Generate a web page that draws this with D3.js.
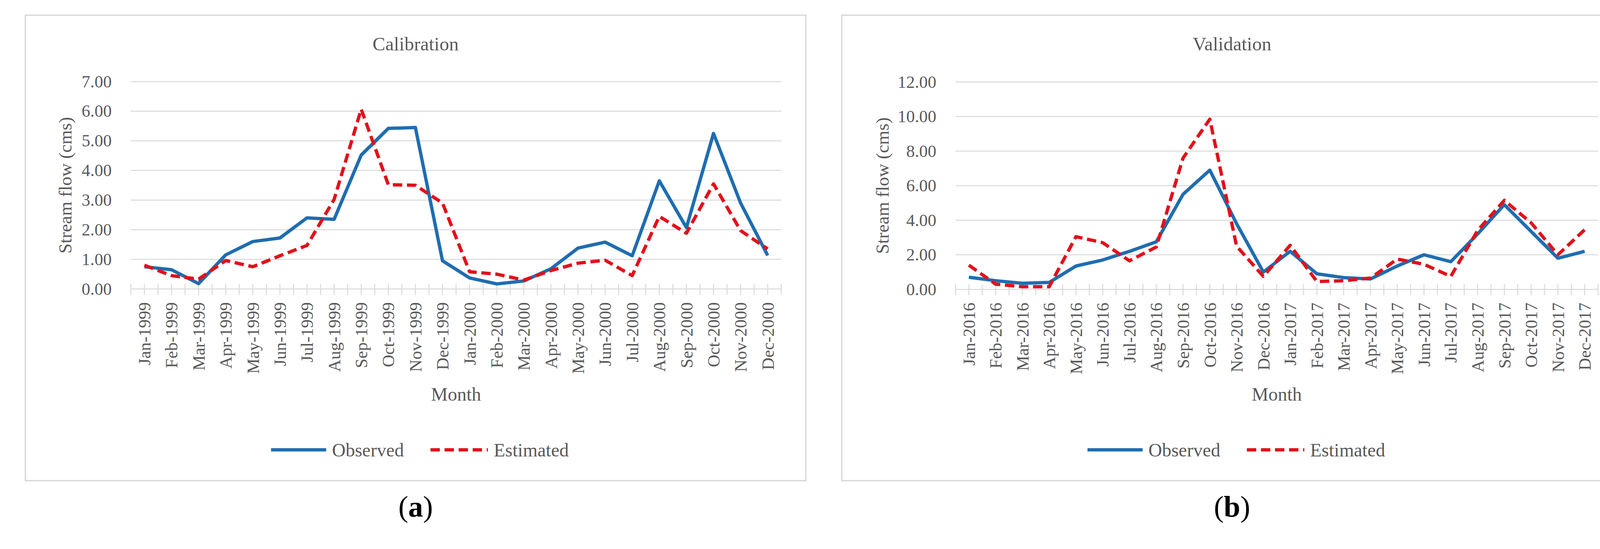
<!DOCTYPE html>
<html lang="en">
<head>
<meta charset="utf-8">
<title>Calibration and validation stream flow</title>
<script src="https://cdn.jsdelivr.net/npm/d3@7/dist/d3.min.js"></script>
<style>
    body { margin: 0; background: #fff; }
    text { font-family: "Liberation Serif", "DejaVu Serif", serif; }
</style>
</head>
<body>
<script>
// ---- data ----
var monthsA = ["Jan-1999","Feb-1999","Mar-1999","Apr-1999","May-1999","Jun-1999",
    "Jul-1999","Aug-1999","Sep-1999","Oct-1999","Nov-1999","Dec-1999",
    "Jan-2000","Feb-2000","Mar-2000","Apr-2000","May-2000","Jun-2000",
    "Jul-2000","Aug-2000","Sep-2000","Oct-2000","Nov-2000","Dec-2000"];
var observedA = [0.75, 0.65, 0.18, 1.15, 1.60, 1.72, 2.40, 2.35, 4.52, 5.42, 5.45, 0.95,
    0.37, 0.17, 0.27, 0.68, 1.38, 1.58, 1.12, 3.65, 2.07, 5.25, 2.90, 1.13];
var estimatedA = [0.80, 0.45, 0.33, 0.96, 0.75, 1.12, 1.47, 3.02, 6.07, 3.52, 3.50, 2.90,
    0.58, 0.50, 0.30, 0.62, 0.87, 0.97, 0.45, 2.45, 1.88, 3.55, 1.97, 1.35];
var yTicksA = [0, 1, 2, 3, 4, 5, 6, 7];

var monthsB = ["Jan-2016","Feb-2016","Mar-2016","Apr-2016","May-2016","Jun-2016",
    "Jul-2016","Aug-2016","Sep-2016","Oct-2016","Nov-2016","Dec-2016",
    "Jan-2017","Feb-2017","Mar-2017","Apr-2017","May-2017","Jun-2017",
    "Jul-2017","Aug-2017","Sep-2017","Oct-2017","Nov-2017","Dec-2017"];
var observedB = [0.70, 0.50, 0.35, 0.40, 1.35, 1.70, 2.20, 2.75, 5.50, 6.90, 3.80, 1.00,
    2.20, 0.90, 0.68, 0.60, 1.35, 2.00, 1.60, 3.20, 4.90, 3.35, 1.80, 2.20];
var estimatedB = [1.40, 0.30, 0.15, 0.15, 3.05, 2.70, 1.65, 2.45, 7.60, 9.85, 2.50, 0.75,
    2.55, 0.45, 0.50, 0.65, 1.75, 1.45, 0.75, 3.40, 5.15, 3.85, 2.00, 3.45];
var yTicksB = [0, 2, 4, 6, 8, 10, 12];

var W = 4192, H = 1406;
var blue = "#1f6db0", red = "#e2101b", grey = "#d9d9d9", textCol = "#595959";

var svg = d3.select("body").append("svg")
    .attr("width", W)
    .attr("height", H);

function drawPanel(p) {
    var g = svg.append("g");
    var fx = p.frameX;

    // outer chart frame
    g.append("rect")
        .attr("x", fx).attr("y", 39)
        .attr("width", 1998).attr("height", 1192)
        .attr("fill", "#fff")
        .attr("stroke", grey)
        .attr("stroke-width", 3.5);

    var x = d3.scaleBand().domain(p.months).range([p.left, p.right]);
    var y = d3.scaleLinear().domain([0, d3.max(p.ticks)]).range([p.bottom, p.top]);
    var bw = x.bandwidth();
    var cx = function (d) { return x(d) + bw / 2; };

    // gridlines + y labels
    var yAxis = d3.axisLeft(y)
        .tickValues(p.ticks)
        .tickFormat(d3.format(".2f"))
        .tickSize(0)
        .tickPadding(49);
    var ya = g.append("g").attr("transform", "translate(" + p.left + ",0)").call(yAxis);
    ya.select(".domain").remove();
    ya.selectAll("text")
        .attr("font-size", "44px")
        .attr("font-family", "Liberation Serif")
        .attr("fill", textCol);

    g.selectAll(".grid")
        .data(p.ticks.filter(function (t) { return t > 0; }))
        .enter().append("line")
        .attr("x1", p.left).attr("x2", p.right)
        .attr("y1", function (d) { return y(d); })
        .attr("y2", function (d) { return y(d); })
        .attr("stroke", grey)
        .attr("stroke-width", 2.5);

    // category axis with crossing tick marks (edges and centres)
    g.append("line")
        .attr("x1", p.left).attr("x2", p.right)
        .attr("y1", y(0)).attr("y2", y(0))
        .attr("stroke", grey).attr("stroke-width", 2.5);
    var tickPos = [];
    p.months.forEach(function (m) { tickPos.push(x(m)); tickPos.push(cx(m)); });
    tickPos.push(p.right);
    g.selectAll(".tick-x")
        .data(tickPos)
        .enter().append("line")
        .attr("x1", function (d) { return d; })
        .attr("x2", function (d) { return d; })
        .attr("y1", y(0) - 13).attr("y2", y(0) + 15)
        .attr("stroke", grey).attr("stroke-width", 2.5);

    g.selectAll(".xlab")
        .data(p.months)
        .enter().append("text")
        .attr("transform", function (d) { return "translate(" + cx(d) + "," + (y(0) + 34) + ") rotate(-90)"; })
        .attr("text-anchor", "end")
        .attr("dy", "0.35em")
        .attr("font-size", "44px")
        .attr("fill", textCol)
        .text(function (d) { return d; });

    // series
    var line = d3.line()
        .x(function (d, i) { return cx(p.months[i]); })
        .y(function (d) { return y(d); });

    g.append("path")
        .datum(p.observed)
        .attr("d", line)
        .attr("fill", "none")
        .attr("stroke", blue)
        .attr("stroke-width", 8.5)
        .attr("stroke-linejoin", "round");

    g.append("path")
        .datum(p.estimated)
        .attr("d", line)
        .attr("fill", "none")
        .attr("stroke", red)
        .attr("stroke-width", 8.5)
        .attr("stroke-dasharray", "24,12")
        .attr("stroke-linejoin", "round");

    // titles
    g.append("text")
        .attr("x", fx + 999).attr("y", 129)
        .attr("text-anchor", "middle")
        .attr("font-size", "49px")
        .attr("fill", textCol)
        .text(p.title);

    g.append("text")
        .attr("x", (p.left + p.right) / 2).attr("y", 1026)
        .attr("text-anchor", "middle")
        .attr("font-size", "48px")
        .attr("fill", textCol)
        .text("Month");

    g.append("text")
        .attr("transform", "translate(" + p.yLabelX + "," + ((p.top + p.bottom) / 2) + ") rotate(-90)")
        .attr("text-anchor", "middle")
        .attr("dy", "0.35em")
        .attr("font-size", "47px")
        .attr("fill", textCol)
        .text("Stream flow (cms)");

    // legend
    var ly = 1152;
    g.append("line")
        .attr("x1", fx + 629).attr("x2", fx + 770)
        .attr("y1", ly).attr("y2", ly)
        .attr("stroke", blue).attr("stroke-width", 8.5);
    g.append("text")
        .attr("x", fx + 785).attr("y", ly)
        .attr("dy", "0.35em")
        .attr("font-size", "48px")
        .attr("fill", textCol)
        .text("Observed");
    g.append("line")
        .attr("x1", fx + 1037).attr("x2", fx + 1184)
        .attr("y1", ly).attr("y2", ly)
        .attr("stroke", red).attr("stroke-width", 8.5)
        .attr("stroke-dasharray", "24,12");
    g.append("text")
        .attr("x", fx + 1199).attr("y", ly)
        .attr("dy", "0.35em")
        .attr("font-size", "48px")
        .attr("fill", textCol)
        .text("Estimated");

    // panel letter
    var lab = g.append("text")
        .attr("x", fx + 999).attr("y", 1323)
        .attr("text-anchor", "middle")
        .attr("font-size", "76px")
        .attr("fill", "#000");
    lab.append("tspan").text("(");
    lab.append("tspan").attr("font-weight", "bold").text(p.letter);
    lab.append("tspan").text(")");
}

drawPanel({
    frameX: 65, left: 335, right: 2000, top: 209, bottom: 740, yLabelX: 167,
    months: monthsA, observed: observedA, estimated: estimatedA, ticks: yTicksA,
    title: "Calibration", letter: "a"
});
drawPanel({
    frameX: 2155, left: 2446, right: 4091, top: 210, bottom: 741, yLabelX: 2259,
    months: monthsB, observed: observedB, estimated: estimatedB, ticks: yTicksB,
    title: "Validation", letter: "b"
});
</script>
</body>
</html>
